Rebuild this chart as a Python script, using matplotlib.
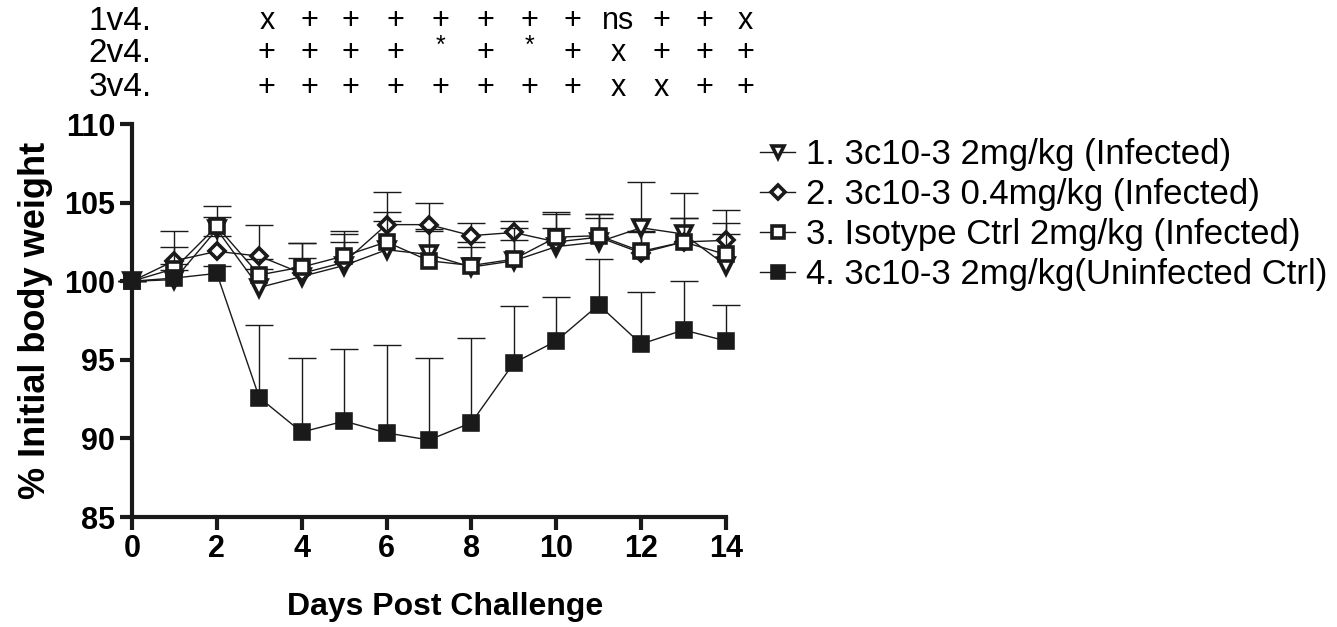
import numpy as np
import matplotlib
matplotlib.use("Agg")
import matplotlib.pyplot as plt
import matplotlib.transforms as mtransforms

plt.rcParams['font.family'] = ['Liberation Sans', 'DejaVu Sans']

# ---------------------------
# data
# ---------------------------
days = np.arange(15)

g1_mean = [100, 100.1, 103.3, 99.6, 100.3, 101.0, 102.0, 101.7, 100.9, 101.3, 102.2, 102.5, 103.4, 103.0, 101.0]
g1_err  = [0, 1.0, 0.8, 1.2, 1.2, 1.5, 1.8, 1.5, 1.3, 1.3, 1.2, 1.5, 2.9, 2.6, 2.0]

g2_mean = [100, 101.3, 101.9, 101.6, 100.5, 101.2, 103.6, 103.6, 102.9, 103.1, 102.5, 102.8, 101.8, 102.5, 102.6]
g2_err  = [0, 1.9, 1.0, 2.0, 1.9, 1.8, 2.1, 1.4, 0.8, 0.7, 1.8, 1.5, 1.4, 1.5, 1.9]

g3_mean = [100, 100.8, 103.5, 100.4, 100.9, 101.6, 102.5, 101.3, 101.0, 101.4, 102.8, 102.9, 101.9, 102.5, 101.7]
g3_err  = [0, 1.4, 1.3, 1.0, 1.5, 1.6, 1.9, 2.0, 1.5, 2.0, 1.6, 1.4, 1.2, 1.5, 2.0]

g4_mean = [100, 100.2, 100.5, 92.6, 90.4, 91.1, 90.35, 89.9, 91.0, 94.8, 96.2, 98.5, 96.0, 96.9, 96.2]
g4_err  = [0, 0.5, 0.5, 4.6, 4.7, 4.6, 5.6, 5.2, 5.4, 3.6, 2.8, 2.9, 3.3, 3.1, 2.3]

labels = ['1. 3c10-3 2mg/kg (Infected)',
          '2. 3c10-3 0.4mg/kg (Infected)',
          '3. Isotype Ctrl 2mg/kg (Infected)',
          '4. 3c10-3 2mg/kg(Uninfected Ctrl)']

# significance rows
row_names = ['1v4.', '2v4.', '3v4.']
sig_rows = [
    ['x', '+', '+', '+', '+', '+', '+', '+', 'ns', '+', '+', 'x'],
    ['+', '+', '+', '+', '*', '+', '*', '+', 'x', '+', '+', '+'],
    ['+', '+', '+', '+', '+', '+', '+', '+', 'x', 'x', '+', '+'],
]
sig_x = [3.18, 4.18, 5.15, 6.22, 7.27, 8.32, 9.37, 10.38, 11.45, 12.47, 13.5, 14.45]

# ---------------------------
# plot
# ---------------------------
ink = '#1a1a1a'
fig = plt.figure(figsize=(13.37, 6.27), dpi=100)
ax = fig.add_axes([0.0987, 0.1754, 0.4443, 0.6268])

styles = [
    dict(marker='v', ms=11, mfc='white'),
    dict(marker='D', ms=8.5, mfc='white'),
    dict(marker='s', ms=10.5, mfc='white'),
    dict(marker='s', ms=10.5, mfc=ink),
]
series = [(g1_mean, g1_err), (g2_mean, g2_err), (g3_mean, g3_err), (g4_mean, g4_err)]

handles = []
for (m, e), st, lab in zip(series, styles, labels):
    e = np.array(e)
    # upper error bars only
    eb = ax.errorbar(days, m, yerr=[np.zeros_like(e), e], fmt='none', ecolor=ink,
                     elinewidth=1.0, capsize=10, capthick=1.0, clip_on=False)
    eb[1][0].set_visible(False)
    h, = ax.plot(days, m, color=ink, lw=1.0, marker=st['marker'], ms=st['ms'],
                 mfc=st['mfc'], mec=ink, mew=2.6, label=lab, clip_on=False)
    handles.append(h)

ax.set_xlim(0, 14)
ax.set_ylim(85, 110)
ax.set_xticks(np.arange(0, 15, 2))
ax.set_yticks(np.arange(85, 111, 5))
ax.spines['top'].set_visible(False)
ax.spines['right'].set_visible(False)
ax.spines['left'].set_linewidth(3)
ax.spines['bottom'].set_linewidth(3)
ax.spines['left'].set_color(ink)
ax.spines['bottom'].set_color(ink)
ax.tick_params(width=3, length=9, labelsize=22, pad=3, color=ink)
for t in ax.get_xticklabels() + ax.get_yticklabels():
    t.set_fontweight('bold')

ax.set_xlabel('Days Post Challenge', fontsize=23, fontweight='bold')
ax.xaxis.set_label_coords(0.527, -0.19)
ax.set_ylabel('% Initial body weight', fontsize=26, fontweight='bold', labelpad=8)

leg = ax.legend(handles=handles, loc='upper left', bbox_to_anchor=(1.058, 0.964),
                frameon=False, fontsize=25, handlelength=1.0, handletextpad=0.3,
                labelspacing=0.2, borderaxespad=0, borderpad=0, markerscale=0.8)

# significance annotations above the axes
trans = mtransforms.blended_transform_factory(ax.transData, fig.transFigure)
row_y = [0.966, 0.915, 0.860]
for name, row, yy in zip(row_names, sig_rows, row_y):
    fig.text(0.066, yy, name, fontsize=24, va='center', ha='left')
    for xx, s in zip(sig_x, row):
        if s == '*':
            ax.text(xx, yy + 0.012, s, transform=trans, fontsize=18, ha='center', va='center')
        else:
            ax.text(xx, yy, s, transform=trans, fontsize=22, ha='center', va='center')

fig.savefig('out.png', dpi=100)
